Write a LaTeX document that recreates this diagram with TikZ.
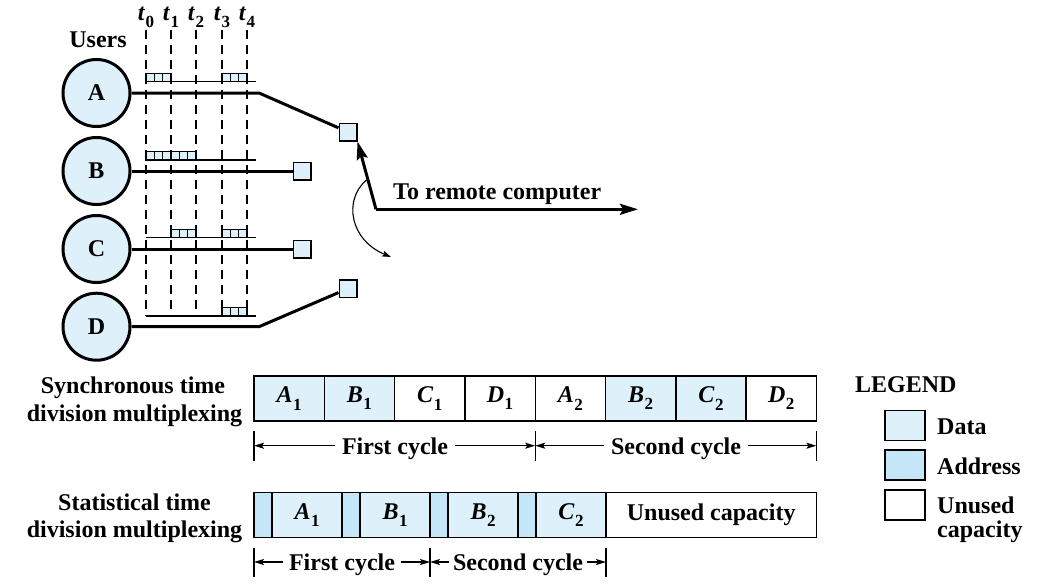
\documentclass[tikz,border=0pt]{standalone}
\usepackage{fontspec}
\setmainfont{Liberation Serif}
\usetikzlibrary{arrows.meta}
\definecolor{datac}{RGB}{222,241,251}
\definecolor{addrc}{RGB}{196,230,247}
\newcommand\lab[2]{\textit{#1}\kern0.5pt\raisebox{-0.3em}{\fontsize{17}{17}\selectfont #2}}
\newcommand\slot[3]{%
  \draw[tline,fill=datac] (#1,{#3-8.5}) rectangle (#2,#3);
  \draw[tline] ({#1+(#2-#1)/3},{#3-8.5}) -- ++(0,8.5) ({#1+2*(#2-#1)/3},{#3-8.5}) -- ++(0,8.5);}
\begin{document}
\begin{tikzpicture}[x=1pt,y=-1pt,font=\fontsize{24}{27}\selectfont\bfseries,
  user/.style={circle,draw,line width=3pt,fill=datac,minimum size=67pt,inner sep=0pt},
  sq/.style={draw,line width=1.5pt,fill=datac,minimum size=17.5pt,inner sep=0pt},
  cell/.style={draw,line width=1.4pt,minimum height=45pt,inner sep=0pt,outer sep=0pt,anchor=west},
  tline/.style={line width=1.1pt},
  dashline/.style={line width=1.2pt,dash pattern=on 9pt off 6pt},
  thickline/.style={line width=3pt},
  bigarrow/.style={line width=3pt,-{Stealth[length=18pt,width=11pt,inset=3pt]}},
  cycarrow/.style={line width=1.2pt,-{Stealth[length=10pt,width=6pt,inset=2pt]}},
  tick/.style={line width=1.2pt},
  lgbox/.style={draw,line width=1.5pt,minimum width=40pt,minimum height=30pt,inner sep=0pt}]
\useasboundingbox (0,0) rectangle (1048,586);
% time lines
\foreach \x/\i in {146/0,171/1,196/2,222/3,247/4}{
  \draw[dashline] (\x,30) -- (\x,316);
  \node (t\i) at (\x,17) {\lab{t}{\i}};
}
\node (users) at (98,40) {Users};
% timelines and data blocks
\draw[tline] (146,81.7) -- (256,81.7);
\slot{146}{171}{81.7}\slot{222}{247}{81.7}
\draw[tline] (146,160) -- (256,160);
\slot{146}{171}{160}\slot{171}{196}{160}
\draw[tline] (146,237.7) -- (256,237.7);
\slot{171}{196}{237.7}\slot{222}{247}{237.7}
\draw[tline] (146,316) -- (256,316);
\slot{222}{247}{316}
% users
\node[user] (cA) at (96.5,93) {A};
\node[user] (cB) at (96.5,171) {B};
\node[user] (cC) at (96.5,249) {C};
\node[user] (cD) at (96.5,326.7) {D};
\node[sq] (sqA) at (348,132) {};
\node[sq] (sqB) at (302,171) {};
\node[sq] (sqC) at (302,249) {};
\node[sq] (sqD) at (348,288.5) {};
\draw[thickline] (cA.east) -- (259,93) -- (sqA);
\draw[thickline] (cB.east) -- (sqB);
\draw[thickline] (cC.east) -- (sqC);
\draw[thickline] (cD.east) -- (259,326.7) -- (sqD);
% switch
\coordinate (pivot) at (376,209.3);
\coordinate (out) at (638,209.3);
\draw[bigarrow] (pivot) -- (sqA.south east);
\draw[bigarrow] (pivot) -- (out);
\node[anchor=base west,inner sep=0pt] (remote) at (393,199.3) {To remote computer};
\coordinate (sw1) at (366.5,180);
\coordinate (sw2) at (391,257);
\draw[line width=1.1pt,-{Stealth[length=9pt,width=6pt,inset=2pt]}] (sw1) .. controls (343,200) and (350,240) .. (sw2);
% synchronous TDM
\node[anchor=base,inner sep=0pt] (syn1) at (133,393) {Synchronous time};
\node[anchor=base,inner sep=0pt] (syn2) at (134.5,421) {division multiplexing};
\node[cell,fill=datac,minimum width=70.3pt] (s1) at (254,398.5) {\lab{A}{1}};
\node[cell,fill=datac,minimum width=70.3pt] (s2) at (s1.east) {\lab{B}{1}};
\node[cell,fill=white,minimum width=70.3pt] (s3) at (s2.east) {\lab{C}{1}};
\node[cell,fill=white,minimum width=70.3pt] (s4) at (s3.east) {\lab{D}{1}};
\node[cell,fill=white,minimum width=70.3pt] (s5) at (s4.east) {\lab{A}{2}};
\node[cell,fill=datac,minimum width=70.3pt] (s6) at (s5.east) {\lab{B}{2}};
\node[cell,fill=datac,minimum width=70.3pt] (s7) at (s6.east) {\lab{C}{2}};
\node[cell,fill=white,minimum width=70.3pt] (s8) at (s7.east) {\lab{D}{2}};
\coordinate (k1) at (254,445.7);
\coordinate (k2) at (535.2,445.7);
\coordinate (k3) at (816.4,445.7);
\foreach \k in {k1,k2,k3} \draw[tick] ([yshift=-15pt]\k) -- ([yshift=14.5pt]\k);
\node[inner xsep=7pt,inner ysep=0pt] (fc1) at (395,448.7) {First cycle};
\node[inner xsep=7pt,inner ysep=0pt] (sc1) at (676,448.7) {Second cycle};
\draw[cycarrow] (fc1.west |- k1) -- (k1);
\draw[cycarrow] (fc1.east |- k1) -- (k2);
\draw[cycarrow] (sc1.west |- k1) -- (k2);
\draw[cycarrow] (sc1.east |- k1) -- (k3);
% statistical TDM
\node[anchor=base,inner sep=0pt] (st1) at (134.5,510.7) {Statistical time};
\node[anchor=base,inner sep=0pt] (st2) at (134.5,537.3) {division multiplexing};
\node[cell,fill=addrc,minimum width=18pt] (a1) at (254,515.2) {};
\node[cell,fill=datac,minimum width=70pt] (d1) at (a1.east) {\lab{A}{1}};
\node[cell,fill=addrc,minimum width=18pt] (a2) at (d1.east) {};
\node[cell,fill=datac,minimum width=70pt] (d2) at (a2.east) {\lab{B}{1}};
\node[cell,fill=addrc,minimum width=18pt] (a3) at (d2.east) {};
\node[cell,fill=datac,minimum width=70pt] (d3) at (a3.east) {\lab{B}{2}};
\node[cell,fill=addrc,minimum width=18pt] (a4) at (d3.east) {};
\node[cell,fill=datac,minimum width=70pt] (d4) at (a4.east) {\lab{C}{2}};
\node[cell,fill=white,minimum width=210.4pt] (un) at (d4.east) {Unused capacity};
\coordinate (m1) at (254,562);
\coordinate (m2) at (430,562);
\coordinate (m3) at (606,562);
\foreach \k in {m1,m2,m3} \draw[tick] ([yshift=-14.5pt]\k) -- ([yshift=14.5pt]\k);
\node[inner xsep=6pt,inner ysep=0pt] (fc2) at (342,565) {First cycle};
\node[inner xsep=4pt,inner ysep=0pt] (sc2) at (518,565) {Second cycle};
\draw[cycarrow] (fc2.west |- m1) -- (m1);
\draw[cycarrow] (fc2.east |- m1) -- (m2);
\draw[cycarrow] (sc2.west |- m1) -- (m2);
\draw[cycarrow] (sc2.east |- m1) -- (m3);
% legend
\node[anchor=base west,inner sep=0pt] (legend) at (855,392) {LEGEND};
\node[lgbox,fill=datac] (lgd) at (905,425.7) {};
\node[lgbox,fill=addrc] (lga) at (905,465) {};
\node[lgbox,fill=white] (lgu) at (905,505) {};
\node[anchor=base west,inner sep=0pt] (lgdt) at (937,434) {Data};
\node[anchor=base west,inner sep=0pt] (lgat) at (937,474) {Address};
\node[anchor=base west,inner sep=0pt] (lgut) at (937,513.3) {Unused};
\node[anchor=base west,inner sep=0pt] (lgut2) at (937,537) {capacity};
\end{tikzpicture}
\end{document}
